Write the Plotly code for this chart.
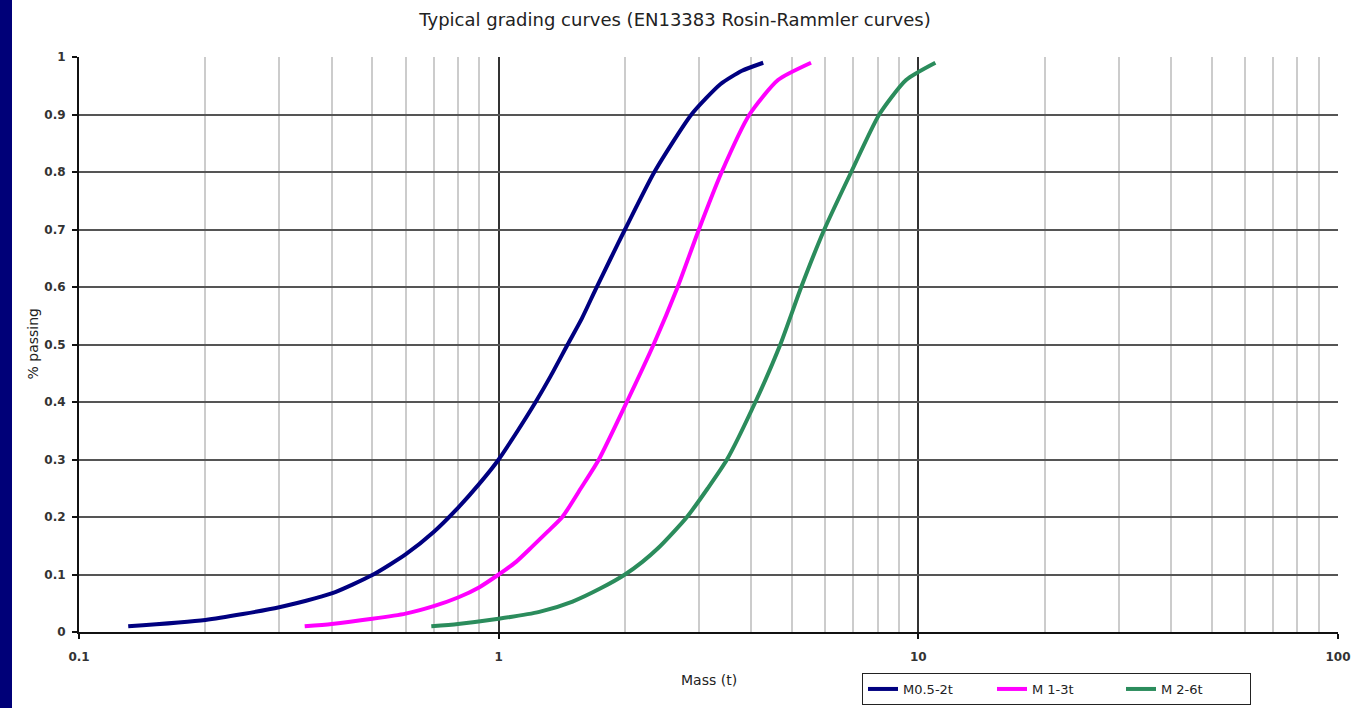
import plotly.graph_objects as go

# ---- data ----
m05_mass = [0.131, 0.2, 0.3, 0.4, 0.5, 0.6, 0.7, 0.8, 0.9, 1.0, 1.11, 1.225, 1.33, 1.46, 1.58, 1.70, 1.85, 2.0, 2.35, 2.88, 3.38, 3.8, 4.27]
m05_pass = [0.01, 0.021, 0.043, 0.067, 0.099, 0.135, 0.174, 0.216, 0.258, 0.30, 0.35, 0.40, 0.445, 0.50, 0.546, 0.595, 0.65, 0.70, 0.80, 0.90, 0.953, 0.976, 0.99]

m13_mass = [0.345, 0.4, 0.5, 0.6, 0.7, 0.8, 0.9, 1.0, 1.1, 1.2, 1.31, 1.418, 1.57, 1.733, 2.02, 2.34, 2.67, 3.0, 3.40, 3.96, 4.63, 5.55]
m13_pass = [0.01, 0.014, 0.023, 0.032, 0.045, 0.060, 0.078, 0.10, 0.122, 0.148, 0.175, 0.20, 0.25, 0.30, 0.40, 0.50, 0.60, 0.70, 0.80, 0.90, 0.960, 0.99]

m26_mass = [0.691, 0.8, 1.0, 1.25, 1.5, 1.75, 2.0, 2.2, 2.4, 2.62, 2.81, 3.15, 3.50, 4.09, 4.69, 5.26, 5.97, 6.92, 8.07, 9.35, 10.98]
m26_pass = [0.01, 0.014, 0.023, 0.035, 0.053, 0.076, 0.10, 0.122, 0.146, 0.175, 0.20, 0.25, 0.30, 0.40, 0.50, 0.60, 0.70, 0.80, 0.90, 0.960, 0.99]

series_names = ["M0.5-2t", "M 1-3t", "M 2-6t"]
series_colors = ["#000080", "#ff00ff", "#2b8c5c"]

x_major = [0.1, 1, 10, 100]
x_minor = [k * 10**e for e in (-1, 0, 1) for k in range(2, 10)]
y_ticks = [round(i * 0.1, 1) for i in range(11)]

W, H = 1351, 708
L, R, T, B = 79, 13, 57, 76
pw, ph = W - L - R, H - T - B

def px_x(p):
    return (p - L) / pw

def px_y(p):
    return (H - B - p) / ph

FONT = "DejaVu Sans, Liberation Sans, Arial, sans-serif"

fig = go.Figure()
for xs, ys, name, col in zip([m05_mass, m13_mass, m26_mass], [m05_pass, m13_pass, m26_pass], series_names, series_colors):
    fig.add_trace(go.Scatter(x=xs, y=ys, mode="lines", name=name,
                             line=dict(color=col, width=4, shape="spline", smoothing=0.6)))

fig.update_layout(
    width=W, height=H,
    margin=dict(l=L, r=R, t=T, b=B, autoexpand=False),
    paper_bgcolor="white", plot_bgcolor="white",
    font=dict(family=FONT, size=12, color="#222"),
    title=dict(text="Typical grading curves (EN13383 Rosin-Rammler curves)",
               x=675 / W, xref="container", xanchor="center",
               y=1 - 20 / H, yref="container", yanchor="middle",
               pad=dict(t=0, b=0, l=0, r=0),
               font=dict(family=FONT, size=18, color="#222")),
    showlegend=True,
    legend=dict(orientation="h", x=px_x(862), y=px_y(673), xanchor="left", yanchor="top",
                bordercolor="#222", borderwidth=1, bgcolor="white",
                font=dict(family=FONT, size=13, color="#222"), itemwidth=30,
                entrywidth=84, entrywidthmode="pixels"),
)

fig.update_xaxes(
    type="log", range=[-1, 2], automargin=False,
    tickvals=x_major, ticktext=[str(v) for v in x_major],
    showgrid=True, gridcolor="#333", gridwidth=2,
    minor=dict(tickvals=x_minor, showgrid=True, gridcolor="#cccccc", gridwidth=2, ticks=""),
    showline=True, linecolor="#111", linewidth=2,
    ticks="outside", ticklen=5, tickcolor="#111", tickwidth=2,
    ticklabelstandoff=8,
    tickfont=dict(family=FONT, size=12, color="#333", weight="bold"),
    zeroline=False,
)
fig.update_yaxes(
    range=[0, 1.0], automargin=False,
    tickvals=y_ticks, ticktext=[f"{v:g}" for v in y_ticks],
    showgrid=True, gridcolor="#555", gridwidth=2,
    showline=True, linecolor="#111", linewidth=2,
    ticks="outside", ticklen=5, tickcolor="#111", tickwidth=2,
    ticklabelstandoff=4,
    tickfont=dict(family=FONT, size=12, color="#333", weight="bold"),
    zeroline=False,
)

# navy strip on the left edge
fig.add_shape(type="rect", xref="paper", yref="paper",
              x0=px_x(-2), x1=px_x(12), y0=px_y(H + 5), y1=px_y(-5),
              fillcolor="#000078", line=dict(width=0), layer="above")

# axis titles
fig.add_annotation(text="Mass (t)", xref="paper", yref="paper", x=px_x(709), y=px_y(690),
                   showarrow=False, font=dict(family=FONT, size=14, color="#222"))
fig.add_annotation(text="% passing", xref="paper", yref="paper", x=px_x(22), y=0.5,
                   textangle=-90, showarrow=False, font=dict(family=FONT, size=14, color="#222"))

fig.write_html("out.html",
               config={"displayModeBar": False},
               post_script="document.body.style.margin='0';document.body.style.overflow='hidden';")
